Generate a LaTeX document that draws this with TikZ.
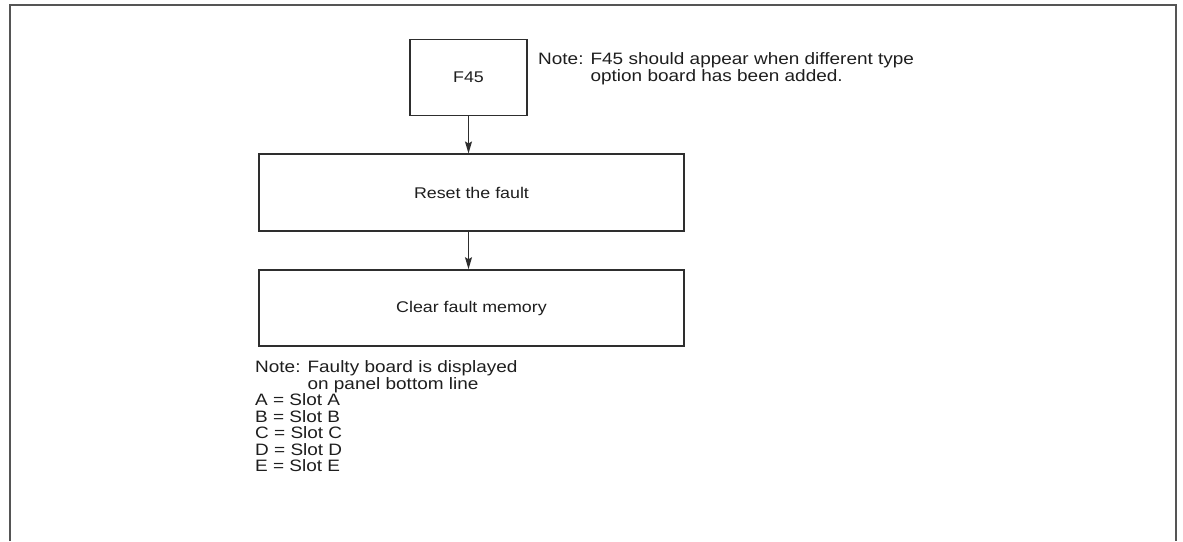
\documentclass[tikz,border=0pt]{standalone}
\usepackage{fontspec}
\setmainfont{Liberation Sans}[FakeStretch=1.15]
\usepackage{xcolor}
\usetikzlibrary{arrows.meta, positioning}
\definecolor{framegray}{HTML}{555555}
\definecolor{linegray}{HTML}{2E2E2E}
\definecolor{textgray}{HTML}{1E1E1E}

\begin{document}
\begin{tikzpicture}[
    x=1pt, y=-1pt,
    >={Stealth[length=12pt, width=7pt, inset=2pt]},
    flowbox/.style={draw=linegray, line width=1.6pt, minimum width=#1, inner sep=0pt, font=\fontsize{15.5}{17}\selectfont, text=textgray},
    notetext/.style={anchor=base west, align=left, inner sep=0pt, font=\fontsize{16.5}{#1}\selectfont, text=textgray},
]
    \useasboundingbox (0,0) rectangle (1183,541);

    % Frame (open at the bottom)
    \draw[framegray, line width=2pt] (9.5,541) -- (9.5,5) -- (1175.5,5) -- (1175.5,541);

    % Steps
    \node[flowbox=117pt, minimum height=76pt] (fault) at (468.5,77.5) {F45};
    \node[flowbox=425pt, minimum height=76.5pt] (reset) at (471.5,192.5) {Reset the fault};
    \node[flowbox=425pt, minimum height=76pt] (clear) at (471.5,308) {Clear fault memory};

    % Notes (anchored on the baseline of their last line)
    \node[notetext=17] (topnote) at (538,81) {Note: F45 should appear when different type\\
        \phantom{Note: }option board has been added.};
    \node[notetext=16.5] (slotnote) at (255,471.5) {Note: Faulty board is displayed\\
        \phantom{Note: }on panel bottom line\\
        A = Slot A\\
        B = Slot B\\
        C = Slot C\\
        D = Slot D\\
        E = Slot E};

    % Arrows
    \draw[->, linegray, line width=1.2pt] (fault.south) -- (fault.south |- reset.north);
    \draw[->, linegray, line width=1.2pt] (fault.south |- reset.south) -- (fault.south |- clear.north);
\end{tikzpicture}
\end{document}
